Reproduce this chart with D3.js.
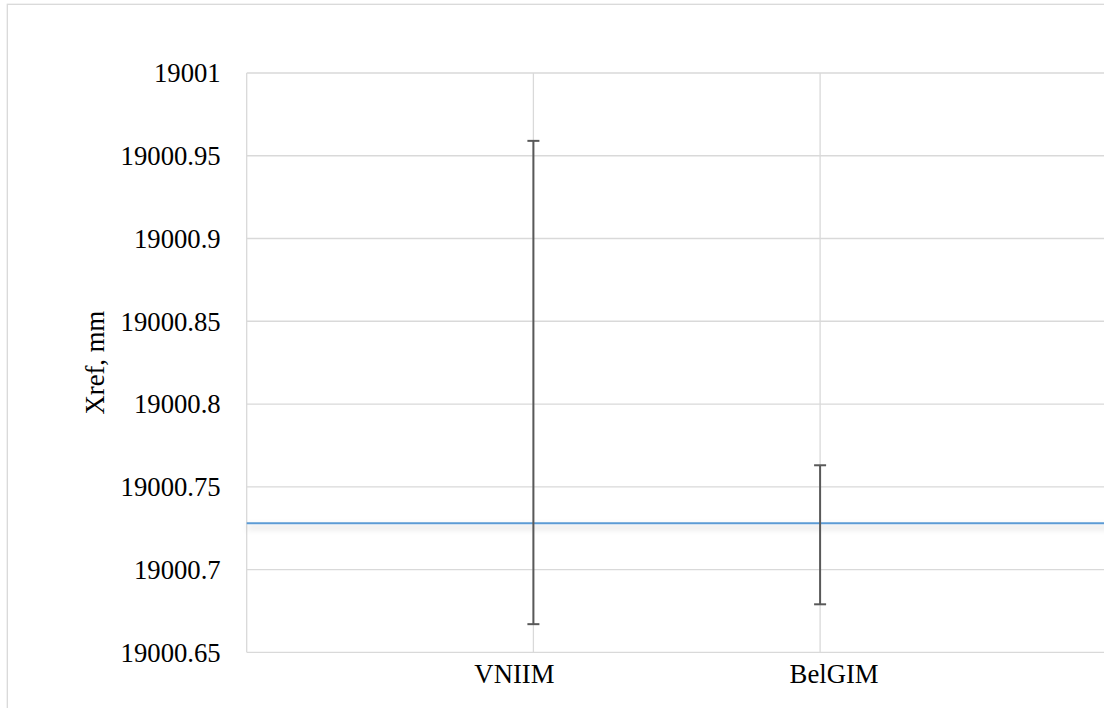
<!DOCTYPE html>
<html>
<head>
<meta charset="utf-8">
<script src="https://cdn.jsdelivr.net/npm/d3@7/dist/d3.min.js"></script>
<style>
  html, body { margin: 0; padding: 0; background: #fff; overflow: hidden; }
  svg { display: block; }
</style>
</head>
<body>
<svg id="chart" width="1104" height="708"></svg>
<script>
// ---- data ----
const categories = ["VNIIM", "BelGIM"];
const errLow = [19000.667, 19000.679];
const errHigh = [19000.959, 19000.763];
const refValue = 19000.728;
const yTicks = [19000.65, 19000.7, 19000.75, 19000.8, 19000.85, 19000.9, 19000.95, 19001];
const yLabel = "Xref, mm";

// ---- layout ----
const W = 1104, H = 708;
const plotLeft = 246.7, plotTop = 73, plotBottom = 652.3, step = 286.7;
const font = "'Liberation Serif', 'Times New Roman', serif";
const fs = 26.7;
const gridColor = "#d9d9d9";

const svg = d3.select("#chart");

const slots = ["_start", ...categories, "_end"];
const x = d3.scalePoint().domain(slots).range([plotLeft, plotLeft + step * (slots.length - 1)]);
const y = d3.scaleLinear().domain([19000.65, 19001]).range([plotBottom, plotTop]);
const plotRight = x("_end") + 40;

// shadow filter
const defs = svg.append("defs");
const f = defs.append("filter").attr("id", "shadow").attr("filterUnits", "userSpaceOnUse")
  .attr("x", 0).attr("y", 480).attr("width", W + 100).attr("height", 100);
f.append("feDropShadow").attr("dx", 0).attr("dy", 4).attr("stdDeviation", 3)
  .attr("flood-color", "#000").attr("flood-opacity", 0.22);

// outer frame
svg.append("rect").attr("x", 7.3).attr("y", 4.3).attr("width", W + 50).attr("height", H + 50)
  .attr("fill", "#fff").attr("stroke", gridColor).attr("stroke-width", 1.3);

// horizontal gridlines
svg.append("g").selectAll("line").data(yTicks).join("line")
  .attr("x1", plotLeft).attr("x2", plotRight)
  .attr("y1", d => y(d)).attr("y2", d => y(d))
  .attr("stroke", gridColor).attr("stroke-width", 1.3);

// vertical gridlines
svg.append("g").selectAll("line").data(slots).join("line")
  .attr("x1", d => x(d)).attr("x2", d => x(d))
  .attr("y1", plotTop).attr("y2", plotBottom)
  .attr("stroke", gridColor).attr("stroke-width", 1.3);

// y axis labels
const yAxis = d3.axisLeft(y).tickValues(yTicks).tickSize(0).tickPadding(26).tickFormat(d3.format(".2~f"));
const ga = svg.append("g").attr("transform", `translate(${plotLeft},0)`).call(yAxis);
ga.select(".domain").remove();
ga.selectAll("text").attr("font-family", font).attr("font-size", fs).attr("fill", "#000").attr("dy", "0.33em");

// reference line
svg.append("line")
  .attr("x1", plotLeft).attr("x2", plotRight)
  .attr("y1", y(refValue)).attr("y2", y(refValue))
  .attr("stroke", "#5b9bd5").attr("stroke-width", 2)
  .attr("filter", "url(#shadow)");

// error bars
const eb = categories.map((c, i) => ({ c, lo: errLow[i], hi: errHigh[i] }));
const g = svg.append("g").attr("stroke", "#595959").attr("stroke-width", 2);
g.selectAll("line.v").data(eb).join("line").attr("class", "v")
  .attr("x1", d => x(d.c)).attr("x2", d => x(d.c))
  .attr("y1", d => y(d.lo)).attr("y2", d => y(d.hi));
g.selectAll("line.t").data(eb).join("line").attr("class", "t")
  .attr("x1", d => x(d.c) - 6).attr("x2", d => x(d.c) + 6)
  .attr("y1", d => y(d.hi)).attr("y2", d => y(d.hi));
g.selectAll("line.b").data(eb).join("line").attr("class", "b")
  .attr("x1", d => x(d.c) - 6).attr("x2", d => x(d.c) + 6)
  .attr("y1", d => y(d.lo)).attr("y2", d => y(d.lo));

// category labels (slightly offset as in the source)
const labelShift = { "VNIIM": -19, "BelGIM": 14 };
svg.append("g").selectAll("text").data(categories).join("text")
  .attr("x", d => x(d) + (labelShift[d] || 0)).attr("y", 683)
  .attr("text-anchor", "middle")
  .attr("font-family", font).attr("font-size", fs).attr("fill", "#000")
  .text(d => d);

// y axis title
svg.append("text")
  .attr("transform", `translate(104,${(plotTop + plotBottom) / 2}) rotate(-90)`)
  .attr("text-anchor", "middle")
  .attr("font-family", font).attr("font-size", fs).attr("fill", "#000")
  .text(yLabel);
</script>
</body>
</html>
